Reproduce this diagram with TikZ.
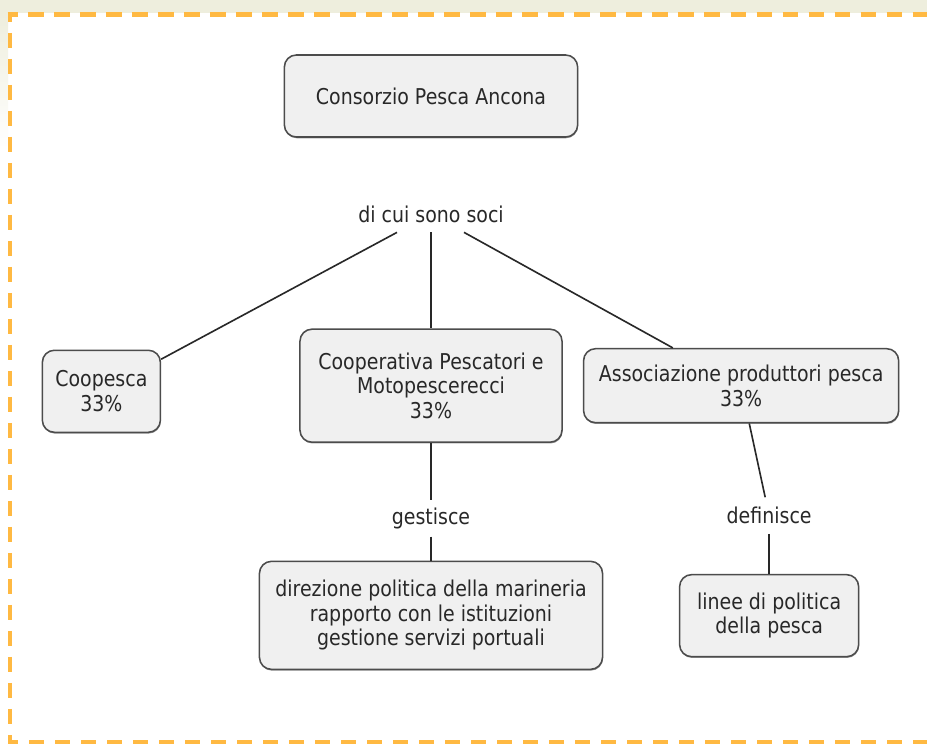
\documentclass[tikz,border=0pt]{standalone}
\usepackage{fontspec}
\setmainfont{DejaVu Sans}[FakeStretch=0.87]
\usepackage{xcolor}
\usetikzlibrary{positioning,shadows}
\definecolor{frameorange}{RGB}{255,185,66}
\definecolor{topbeige}{RGB}{238,238,221}
\definecolor{boxgray}{RGB}{240,240,240}
\definecolor{inkgray}{RGB}{40,40,40}

\begin{document}
\begin{tikzpicture}[
  x=0.025cm, y=-0.025cm,
  concept/.style={draw=black!70, line width=1.1pt, rounded corners=0.3cm, fill=boxgray, align=center, inner sep=0pt, font=\fontsize{15.5}{17.4}\selectfont, text=inkgray, drop shadow={shadow xshift=0.3pt, shadow yshift=-0.9pt, fill=black!60, opacity=0.7}},
  linkword/.style={align=center, inner sep=0pt, minimum height=0.9cm, font=\fontsize{15.5}{17.4}\selectfont, text=inkgray},
  link/.style={draw=inkgray, line width=1.15pt},
  frame/.style={draw=frameorange, line width=3.2pt, dash pattern=on 0.38cm off 0.27cm}
]
\useasboundingbox (0,0) rectangle (927,743);
\fill[white] (0,0) rectangle (927,743);
\fill[topbeige] (0,0) rectangle (927,13);
\shade[top color=topbeige, bottom color=white] (0,13) rectangle (8,150);
\draw[frame, dash phase=0.13cm] (7.5,14.5) -- (927,14.5);
\draw[frame, dash phase=0.13cm] (10,12) -- (10,742) -- (927,742);

\node[concept, minimum width=7.33cm, minimum height=2.05cm] (consorzio) at (431,96) {Consorzio Pesca Ancona};
\node[linkword, below=1.45cm of consorzio] (soci) {di cui sono soci};
\node[concept, minimum width=6.55cm, minimum height=2.825cm, below=2.4cm of soci] (cooperativa) {Cooperativa Pescatori e\\ Motopescerecci\\ 33\%};
\node[concept, minimum width=2.95cm, minimum height=2.05cm, left=3.45cm of cooperativa, yshift=-0.14cm] (coopesca) {Coopesca\\ 33\%};
\node[concept, minimum width=7.875cm, minimum height=1.85cm, right=0.5cm of cooperativa] (associazione) {Associazione produttori pesca\\ 33\%};

\node[linkword, below=1.425cm of cooperativa] (gestisce) {gestisce};
\node[concept, minimum width=8.575cm, minimum height=2.7cm, below=0.6cm of gestisce] (direzione) {direzione politica della marineria\\ rapporto con le istituzioni\\ gestione servizi portuali};
\node[linkword, below=1.925cm of associazione, xshift=0.7cm, yshift=0.08cm] (definisce) {definisce};
\node[concept, minimum width=4.475cm, minimum height=2.05cm, below=1.0cm of definisce] (linee) {linee di politica\\ della pesca};

\draw[link] (soci) -- (coopesca);
\draw[link] (soci) -- (cooperativa);
\draw[link] (soci) -- (associazione);
\draw[link] (cooperativa) -- (gestisce);
\draw[link] (gestisce) -- (direzione);
\draw[link] (associazione) -- (definisce);
\draw[link] (definisce) -- (linee);
\end{tikzpicture}
\end{document}
